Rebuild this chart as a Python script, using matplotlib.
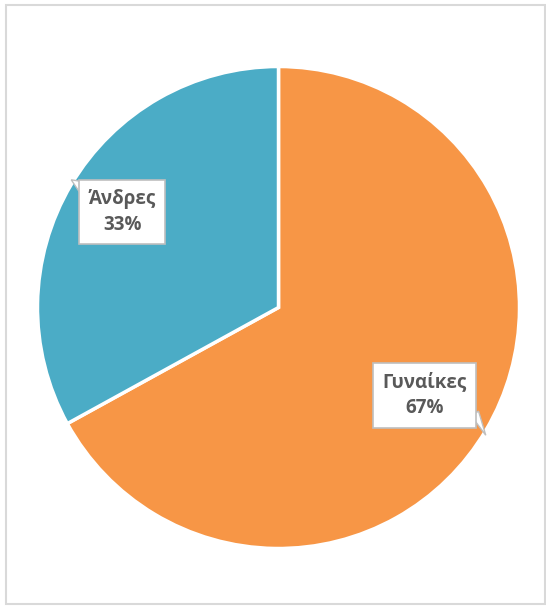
import matplotlib
matplotlib.use("Agg")
import matplotlib.pyplot as plt
from matplotlib.patches import Rectangle, Polygon

categories = ["Γυναίκες", "Άνδρες"]
values = [67, 33]
pct_labels = ["67%", "33%"]
colors = ["#F79646", "#4BACC6"]

W, H = 546, 606
fig = plt.figure(figsize=(W / 100, H / 100), dpi=100)
fig.patch.set_facecolor("white")

# outer chart border
fig.patches.append(Rectangle((6 / W, 1 - 604 / H), 539 / W, 599 / H,
                             transform=fig.transFigure, fill=False,
                             edgecolor="#D9D9D9", linewidth=1.5))

cx, cy, r = 278.5, 307.5, 241
ax = fig.add_axes([(cx - r) / W, (H - cy - r) / H, 2 * r / W, 2 * r / H])
ax.pie(values, colors=colors, startangle=90, counterclock=False,
       radius=1.0, wedgeprops=dict(edgecolor="white", linewidth=2.5))
ax.set_xlim(-1, 1)
ax.set_ylim(-1, 1)
ax.set_aspect("equal")
ax.axis("off")

label_pos = [(0.605, -0.365), (-0.649, 0.396)]
tails = [
    [(0.80, -0.45), (0.86, -0.53), (0.83, -0.43)],
    [(-0.80, 0.52), (-0.86, 0.53), (-0.82, 0.47)],
]
for cat, pct, (x, y), tail in zip(categories, pct_labels, label_pos, tails):
    ax.add_patch(Polygon(tail, closed=True, facecolor="white",
                         edgecolor="#BFBFBF", linewidth=1, zorder=4))
    ax.text(x, y, f"{cat}\n{pct}", ha="center", va="center",
            fontsize=13.5, fontweight="bold", color="#595959",
            family=["Open Sans", "DejaVu Sans"], linespacing=1.4, zorder=5,
            bbox=dict(boxstyle="square,pad=0.5", facecolor="white",
                      edgecolor="#BFBFBF", linewidth=1.2))

fig.savefig("out.png", dpi=100, facecolor="white")
